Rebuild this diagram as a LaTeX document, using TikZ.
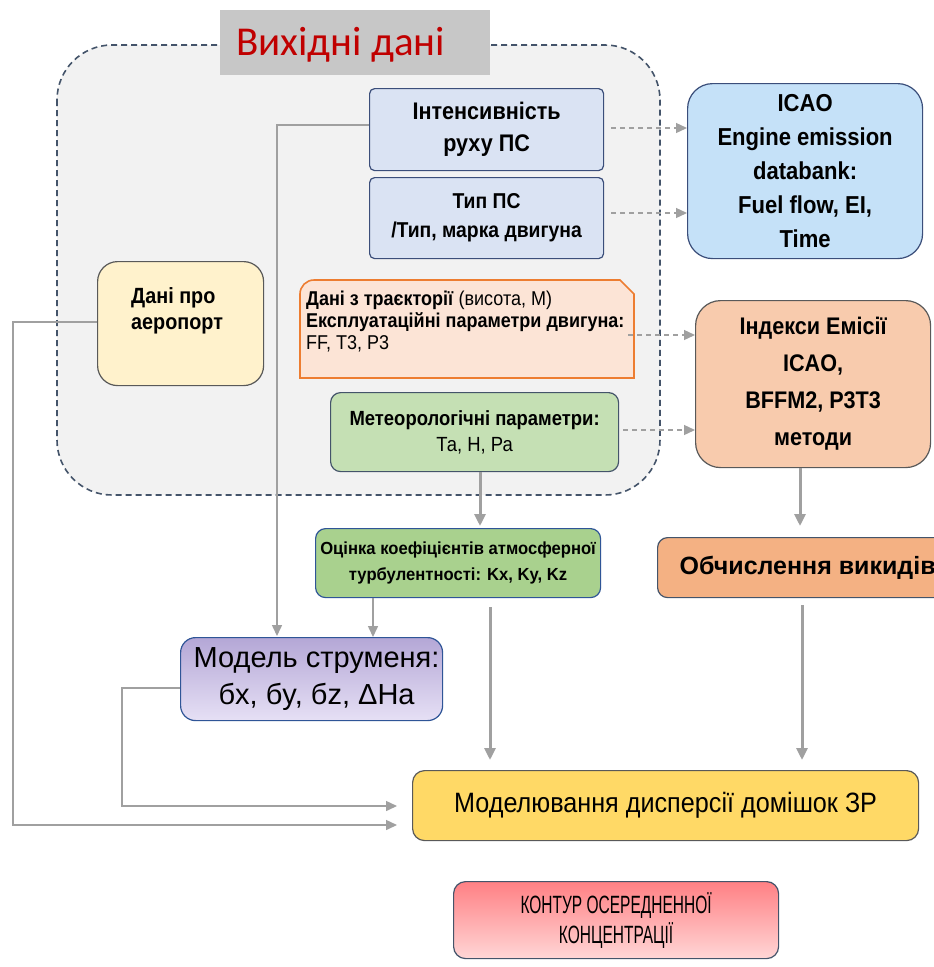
\documentclass[tikz,border=0pt]{standalone}
\usepackage{fontspec}
\setmainfont{Liberation Sans}[FakeStretch=0.9]
\newfontfamily\condfont{Liberation Sans}[FakeStretch=0.62]
\newfontfamily\widefont{Liberation Sans}
\newfontfamily\turbfont{Liberation Sans}[FakeStretch=0.95]
\newfontfamily\titlefont{Carlito}
\usetikzlibrary{arrows.meta,calc}

\definecolor{lnk}{HTML}{A0A0A0}
\definecolor{frameblue}{HTML}{44546A}
\definecolor{edgeblue}{HTML}{3B4E7A}
\definecolor{edgegray}{HTML}{595959}
\definecolor{titlered}{HTML}{C00000}

\begin{document}
\begin{tikzpicture}[x=1pt,y=-1pt,
  blk/.style={draw=edgeblue, line width=1.2pt, anchor=north west, align=center,
              inner sep=2pt, text=black},
  flowline/.style={draw=lnk, line width=1.5pt},
  flowarrow/.style={flowline, -{Triangle[length=11pt,width=10pt]}},
  fatarrow/.style={draw=lnk, line width=3pt, -{Triangle[length=12pt,width=11pt]}},
  dasharrow/.style={draw=lnk, line width=1.3pt, dash pattern=on 5pt off 4pt,
              -{Triangle[length=11pt,width=10pt]}}
]
\useasboundingbox (0,0) rectangle (934,967);
\fill[white] (0,0) rectangle (934,967);

% input data frame
\draw[frameblue, fill=black!5, line width=1.6pt, dash pattern=on 6pt off 4pt,
      rounded corners=55pt] (57,45) rectangle (660,495);
\node[fill=black!22, anchor=north west, minimum width=270pt, minimum height=65pt,
      inner sep=0pt] (title) at (220,10) {};
\node[anchor=west, text=titlered, font=\titlefont\fontsize{41}{44}\selectfont,
      inner sep=0pt] (titletext) at (236,45) {Вихідні дані};

% boxes inside the frame
\node[blk, fill={rgb,255:red,218;green,227;blue,243}, rounded corners=5pt,
      minimum width=234pt, minimum height=82pt,
      font=\bfseries\fontsize{24}{32}\selectfont] (intens) at (369,88)
      {Інтенсивність\\руху ПС};
\node[blk, fill={rgb,255:red,218;green,227;blue,243}, rounded corners=5pt,
      minimum width=234pt, minimum height=81pt,
      font=\bfseries\fontsize{21.5}{29}\selectfont] (actype) at (369,177)
      {Тип ПС\\/Тип, марка двигуна};

\node[blk, draw=edgegray, fill={rgb,255:red,255;green,242;blue,204}, rounded corners=20pt,
      minimum width=166pt, minimum height=124pt] (airport) at (97,261) {};
\node[anchor=north west, align=left, inner sep=0pt,
      font=\bfseries\fontsize{22}{26}\selectfont] (airporttext) at (131,287)
      {Дані про\\аеропорт};

% trajectory box with a cut corner
\draw[draw={rgb,255:red,237;green,125;blue,49}, fill={rgb,255:red,252;green,228;blue,214},
      line width=1.6pt]
  (300,378) -- (300,294) arc[start angle=180, end angle=90, radius=14pt]
  -- (620,280) -- (634,294) -- (634,378) -- cycle;
\node[anchor=north west, minimum width=334pt, minimum height=98pt, inner sep=0pt] (traj)
      at (300,280) {};
\node[anchor=north west, align=left, inner sep=0pt,
      font=\fontsize{20}{22}\selectfont] (trajtext) at (306,291)
      {\textbf{Дані з траєкторії} (висота, М)\\
       \textbf{Експлуатаційні параметри двигуна:}\\
       FF, T3, P3};

\node[blk, draw=frameblue, fill={rgb,255:red,197;green,224;blue,180}, rounded corners=10pt,
      minimum width=288pt, minimum height=79pt,
      font=\fontsize{20.5}{26}\selectfont] (meteo) at (330,392)
      {\textbf{Метеорологічні параметри:}\\Та, Н, Ра};

% emission side
\node[blk, fill={rgb,255:red,197;green,225;blue,248}, rounded corners=25pt,
      minimum width=235pt, minimum height=175pt,
      font=\bfseries\fontsize{24.5}{34}\selectfont] (icao) at (687,83)
      {ICAO\\Engine emission\\databank:\\Fuel flow, EI,\\Time};
\node[blk, draw=edgegray, fill={rgb,255:red,248;green,203;blue,173}, rounded corners=25pt,
      minimum width=235pt, minimum height=167pt,
      font=\bfseries\fontsize{24}{37}\selectfont] (index) at (695,300)
      {Індекси Емісії\\ICAO,\\BFFM2, P3T3\\методи};
\node[blk, draw=frameblue, fill={rgb,255:red,244;green,177;blue,131}, rounded corners=10pt,
      minimum width=300pt, minimum height=60pt,
      font=\widefont\bfseries\fontsize{25}{28}\selectfont] (calc) at (657,537)
      {Обчислення викидів};

% turbulence and plume model
\node[blk, draw={rgb,255:red,47;green,85;blue,151}, fill={rgb,255:red,169;green,209;blue,142},
      rounded corners=10pt, minimum width=285pt, minimum height=69pt,
      font=\turbfont\bfseries\fontsize{17.5}{26}\selectfont] (turb) at (315,528)
      {Оцінка коефіцієнтів атмосферної\\турбулентності: Kx, Ky, Kz};
\node[blk, draw={rgb,255:red,47;green,85;blue,151}, rounded corners=15pt,
      top color={rgb,255:red,180;green,167;blue,214},
      bottom color={rgb,255:red,230;green,224;blue,245},
      minimum width=262pt, minimum height=83pt,
      font=\widefont\fontsize{29}{37}\selectfont] (plume) at (180,637)
      {\hspace*{10pt}Модель струменя:\\\hspace*{10pt}бx, бy, бz, ΔHa};

% dispersion and result
\node[blk, draw=edgegray, fill={rgb,255:red,255;green,217;blue,102}, rounded corners=12pt,
      minimum width=506pt, minimum height=70pt,
      font=\fontsize{28}{30}\selectfont] (disp) at (412,770)
      {Моделювання дисперсії домішок ЗР};
\node[blk, draw=frameblue, rounded corners=12pt,
      top color={rgb,255:red,255;green,128;blue,132},
      bottom color={rgb,255:red,255;green,214;blue,214},
      minimum width=325pt, minimum height=77pt,
      font=\condfont\fontsize{25}{30}\selectfont] (contour) at (453,881)
      {КОНТУР ОСЕРЕДНЕННОЇ\\КОНЦЕНТРАЦІЇ};

% connector end points
\coordinate (turbout) at (490,607);
\coordinate (calcout) at (802,605);

% dashed links to the emission databases
\draw[dasharrow] (intens.east |- 0,128) ++(7,0) -- (icao.west |- 0,128);
\draw[dasharrow] (actype.east |- 0,213) ++(7,0) -- (icao.west |- 0,213);
\draw[dasharrow] (628,335) -- (index.west |- 0,335);
\draw[dasharrow] (meteo.east |- 0,430) ++(4,0) -- (index.west |- 0,430);

% solid flow
\draw[flowarrow] (intens.west |- 0,125) -- (277,125) -- (277,636);
\draw[flowarrow] (turb.south -| 373,0) -- (plume.north -| 373,0);
\draw[fatarrow] (meteo.south -| 480,0) -- (480,526);
\draw[fatarrow] (turbout) -- (490,760);
\draw[fatarrow] (index.south -| 800,0) -- (800,526);
\draw[fatarrow] (calcout) -- (802,760);
\draw[flowarrow] (airport.west |- 0,322) -- (13,322) -- (13,825) -- (397,825);
\draw[flowarrow] (plume.west |- 0,688) -- (122,688) -- (122,806) -- (397,806);
\end{tikzpicture}
\end{document}
